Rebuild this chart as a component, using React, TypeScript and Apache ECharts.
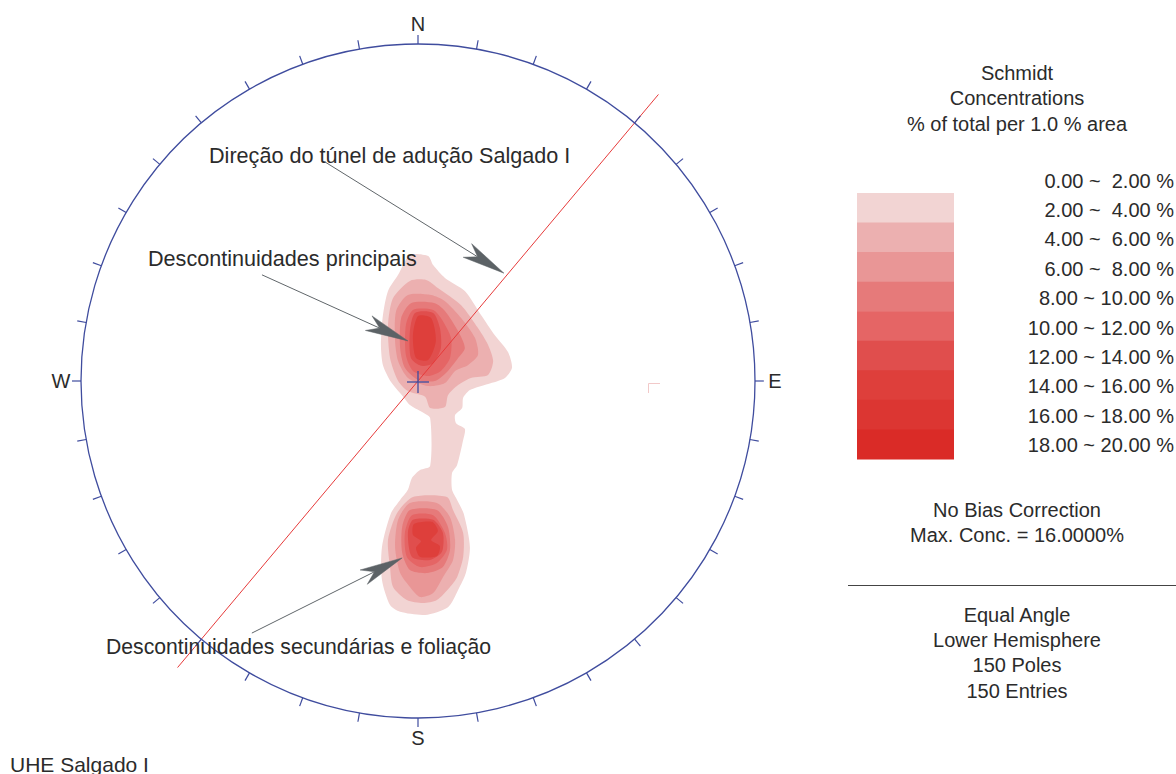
import React, { useEffect, useRef } from "react";
import * as echarts from "echarts";

// ---- Net geometry (net units: primitive circle radius = 100) ----
const NET_R = 100;
const TICK_STEP_DEG = 10;
const CARDINALS = [
  { label: "N", az: 0 },
  { label: "E", az: 90 },
  { label: "S", az: 180 },
  { label: "W", az: 270 },
];

// ---- Contour classes (% of total per 1.0 % area) ----
const LEVEL_BOUNDS = [0, 2, 4, 6, 8, 10, 12, 14, 16, 18, 20];
const LEVEL_COLORS = [
  "#ffffff",
  "#f2d4d3",
  "#ecb0b0",
  "#e99696",
  "#e67a7a",
  "#e56565",
  "#e04e4d",
  "#de3f3b",
  "#dc3632",
  "#da2b27",
];
const MAX_CONC = 16;
const POLES = 150;
const ENTRIES = 150;

// ---- Tunnel direction (azimuth, degrees) ----
const TUNNEL_TREND = 40;
const TUNNEL_HALF_LENGTH = 111;

// ---- Contour rings [x, y] in net units ----
// 2-4 %: one band that joins both pole clusters
const BAND_1 = [
  [-2.4, 37.4], [3.0, 37.1], [4.5, 34.4], [8.0, 30.6], [13.9, 26.7], [18.7, 19.6],
  [22.8, 13.6], [26.7, 8.6], [27.9, 3.9], [25.8, 0.9], [20.8, -0.9], [15.4, -2.7],
  [13.4, -5.0], [13.1, -8.0], [11.0, -10.1], [11.3, -12.5], [13.9, -14.2], [13.4, -17.5],
  [11.6, -24.9], [10.1, -27.3], [10.1, -32.3], [11.6, -35.3], [13.6, -39.5], [15.4, -49.3],
  [14.2, -57.0], [11.9, -62.0], [8.9, -67.1], [2.1, -69.4], [-5.3, -68.5], [-8.3, -66.5],
  [-10.7, -59.0], [-10.7, -49.3], [-8.0, -39.2], [-5.3, -35.3], [-3.0, -32.3], [-1.8, -28.8],
  [0.6, -26.4], [3.6, -25.2], [3.6, -11.0], [1.2, -9.2], [-2.4, -7.1], [-4.5, -4.5],
  [-8.0, -0.3], [-10.4, 4.7], [-11.0, 10.7], [-10.4, 19.6], [-8.9, 26.7], [-5.9, 31.5],
];

// principal set (upper cluster)
const UPPER_2 = [
  [-2.4, 29.7], [2.4, 30.0], [5.9, 27.6], [12.8, 22.5], [17.8, 15.7], [20.8, 10.7],
  [22.3, 5.9], [20.8, 1.8], [15.7, 0.9], [11.9, -1.2], [8.9, -4.2], [8.0, -7.7],
  [3.6, -8.0], [2.1, -4.7], [-3.0, -3.0], [-5.9, 0], [-8.3, 6.8], [-8.9, 16.6], [-7.4, 24.6],
];
const UPPER_3 = [
  [-3.0, 25.5], [3.9, 25.5], [8.0, 23.7], [12.8, 18.7], [16.9, 12.8], [17.8, 7.7],
  [14.8, 4.7], [11.0, 3.0], [8.0, -0.6], [3.0, -1.5], [-3.0, 0.9], [-5.9, 5.9],
  [-6.8, 11.9], [-6.5, 20.8],
];
const UPPER_4 = [
  [-2.1, 23.1], [5.0, 23.1], [8.0, 20.8], [11.9, 14.8], [13.9, 9.8], [11.9, 6.8],
  [8.9, 3.0], [5.0, 0], [0, 0.3], [-3.9, 3.9], [-5.3, 9.8], [-5.0, 18.7],
];
const UPPER_5 = [
  [-1.5, 21.1], [4.5, 21.1], [6.8, 18.7], [9.8, 12.8], [9.5, 6.8], [6.8, 3.0],
  [3.0, 1.5], [-1.5, 3.0], [-3.6, 7.7], [-3.6, 16.6],
];
const UPPER_6 = [
  [-0.9, 20.2], [4.5, 20.2], [6.5, 15.7], [6.8, 9.8], [4.5, 5.3], [0.9, 4.5],
  [-2.1, 6.8], [-2.4, 14.8],
];
const UPPER_7 = [
  [0, 19.3], [3.9, 18.7], [5.3, 11.9], [3.0, 6.2], [-0.6, 6.8], [-1.5, 13.6],
];

// secondary set and foliation (lower cluster)
const LOWER_2 = [
  [-1.5, -34.4], [8.6, -34.4], [10.4, -38.3], [13.4, -45.1], [13.4, -52.2], [11.6, -58.2],
  [9.5, -61.1], [5.6, -65.0], [1.5, -65.9], [-3.3, -65.0], [-7.4, -61.1], [-8.3, -55.2],
  [-8.9, -47.2], [-6.2, -39.2],
];
const LOWER_3 = [
  [-2.4, -36.2], [5.6, -36.2], [9.5, -40.4], [11.0, -47.2], [10.4, -53.1], [7.4, -58.2],
  [4.5, -62.9], [0.6, -64.1], [-2.4, -61.1], [-5.3, -57.0], [-6.8, -49.3], [-5.9, -41.2],
];
const LOWER_4 = [
  [-2.4, -38.3], [5.6, -38.3], [8.9, -43.3], [9.5, -50.1], [7.4, -55.2], [2.7, -57.0],
  [-2.4, -56.1], [-4.7, -51.0], [-4.7, -43.3],
];
const LOWER_5 = [
  [-1.8, -39.8], [4.5, -39.8], [8.0, -45.1], [8.6, -50.1], [5.6, -54.0], [0.6, -55.2],
  [-3.3, -52.2], [-3.9, -45.1],
];
const LOWER_6 = [
  [-1.5, -41.2], [4.5, -41.2], [7.4, -45.1], [7.1, -50.7], [3.6, -53.1], [-1.8, -52.2],
  [-3.0, -45.1],
];
const LOWER_7 = [
  [-1.2, -42.4], [4.2, -41.8], [5.9, -44.5], [3.9, -47.2], [6.5, -49.0], [5.6, -51.9],
  [0.6, -52.2], [-0.6, -49.5], [0.9, -47.5], [-1.5, -45.7],
];

// drawn from the lowest class upward
const CONTOURS: { level: number; ring: number[][] }[] = [
  { level: 1, ring: BAND_1 },
  { level: 2, ring: UPPER_2 },
  { level: 2, ring: LOWER_2 },
  { level: 3, ring: UPPER_3 },
  { level: 3, ring: LOWER_3 },
  { level: 4, ring: UPPER_4 },
  { level: 4, ring: LOWER_4 },
  { level: 5, ring: UPPER_5 },
  { level: 5, ring: LOWER_5 },
  { level: 6, ring: UPPER_6 },
  { level: 6, ring: LOWER_6 },
  { level: 7, ring: UPPER_7 },
  { level: 7, ring: LOWER_7 },
];

// ---- Annotation arrows [fromX, fromY, toX, toY] in net units ----
const ARROW_TUNNEL = [-27.6, 65.0, 25.5, 32.0];
const ARROW_PRINCIPAL = [-46.3, 31.5, -3.0, 11.9];
const ARROW_SECONDARY = [-49.3, -74.8, -4.7, -52.5];
const ARROWS = [ARROW_TUNNEL, ARROW_PRINCIPAL, ARROW_SECONDARY];

const FONT = '"Liberation Sans", Arial, Helvetica, sans-serif';
const TEXT_COLOR = "#2b2b2b";
const NET_COLOR = "#3f4c9e";

function rangeLabel(lo: number, hi: number) {
  const pad = hi < 10 ? "\u00a0" : "";
  return `${lo.toFixed(2)} ~ ${pad}${hi.toFixed(2)} %`;
}

function txt(text: string, x: number, y: number, size: number, align = "center") {
  return {
    type: "text",
    x,
    y,
    z: 20,
    silent: true,
    style: {
      text,
      font: `${size}px ${FONT}`,
      fill: TEXT_COLOR,
      textAlign: align,
      align,
      textVerticalAlign: "middle",
      verticalAlign: "middle",
    },
  };
}

function buildOption() {
  const deg = Math.PI / 180;
  const tunnelEnd = [
    TUNNEL_HALF_LENGTH * Math.sin(TUNNEL_TREND * deg),
    TUNNEL_HALF_LENGTH * Math.cos(TUNNEL_TREND * deg),
  ];

  const tickAz: number[] = [];
  for (let a = 0; a < 360; a += TICK_STEP_DEG) tickAz.push(a);

  // legend column
  const legendX = 1017;
  const swatchTop = 193;
  const swatchH = 29.55;
  const labelTop = 180.6;
  const labelStep = 29.4;
  const graphics: any[] = [
    txt("Schmidt", legendX, 73, 20),
    txt("Concentrations", legendX, 98, 20),
    txt("% of total per 1.0 % area", legendX, 124, 20),
  ];
  for (let i = 0; i < LEVEL_BOUNDS.length - 1; i++) {
    graphics.push(
      txt(rangeLabel(LEVEL_BOUNDS[i], LEVEL_BOUNDS[i + 1]), 1174, labelTop + i * labelStep, 20, "right")
    );
    if (i > 0) {
      graphics.push({
        type: "rect",
        silent: true,
        z: 10,
        shape: { x: 857, y: swatchTop + (i - 1) * swatchH, width: 97, height: swatchH + 0.6 },
        style: { fill: LEVEL_COLORS[i] },
      });
    }
  }
  graphics.push(
    txt("No Bias Correction", legendX, 510, 20),
    txt(`Max. Conc. = ${MAX_CONC.toFixed(4)}%`, legendX, 535, 20),
    {
      type: "line",
      silent: true,
      z: 10,
      shape: { x1: 848, y1: 585.5, x2: 1176, y2: 585.5 },
      style: { stroke: "#444", lineWidth: 1.2 },
    },
    txt("Equal Angle", legendX, 615, 20),
    txt("Lower Hemisphere", legendX, 640, 20),
    txt(`${POLES} Poles`, legendX, 665, 20),
    txt(`${ENTRIES} Entries`, legendX, 691, 20),
    txt("UHE Salgado I", 10, 764, 21, "left"),
    txt("Direção do túnel de adução Salgado I", 209, 155, 21.6, "left"),
    txt("Descontinuidades principais", 148, 258, 21.6, "left"),
    txt("Descontinuidades secundárias e foliação", 106, 646, 21.2, "left"),
    {
      type: "polyline",
      silent: true,
      z: 5,
      shape: { points: [[660, 383.5], [648.5, 383.5], [648.5, 393]] },
      style: { stroke: "#f2c9c9", lineWidth: 1, fill: null },
    }
  );

  return {
    animation: false,
    backgroundColor: "#ffffff",
    grid: { left: 81, top: 44, width: 674, height: 674 },
    xAxis: { type: "value", min: -NET_R, max: NET_R, show: false },
    yAxis: { type: "value", min: -NET_R, max: NET_R, show: false },
    series: [
      {
        type: "custom",
        name: "contours",
        silent: true,
        z: 1,
        data: CONTOURS.map((c) => c.ring[0]),
        renderItem: (params: any, api: any) => {
          const c = CONTOURS[params.dataIndex];
          return {
            type: "polygon",
            shape: { points: c.ring.map((p) => api.coord(p)), smooth: 0.25 },
            style: { fill: LEVEL_COLORS[c.level], stroke: null },
          };
        },
      },
      {
        type: "line",
        name: "tunnel",
        silent: true,
        z: 2,
        symbol: "none",
        lineStyle: { color: "#e63a3a", width: 1 },
        data: [
          [-tunnelEnd[0], -tunnelEnd[1]],
          [tunnelEnd[0], tunnelEnd[1]],
        ],
      },
      {
        type: "custom",
        name: "arrows",
        silent: true,
        z: 3,
        data: ARROWS,
        renderItem: (params: any, api: any) => {
          const a = ARROWS[params.dataIndex];
          const p1 = api.coord([a[0], a[1]]);
          const p2 = api.coord([a[2], a[3]]);
          const dx = p2[0] - p1[0];
          const dy = p2[1] - p1[1];
          const len = Math.hypot(dx, dy);
          const ux = dx / len;
          const uy = dy / len;
          const nx = -uy;
          const ny = ux;
          const headLen = 43;
          const halfW = 8;
          const notch = 31;
          const bx = p2[0] - ux * headLen;
          const by = p2[1] - uy * headLen;
          const mx = p2[0] - ux * notch;
          const my = p2[1] - uy * notch;
          return {
            type: "group",
            children: [
              {
                type: "line",
                shape: { x1: p1[0], y1: p1[1], x2: mx, y2: my },
                style: { stroke: "#60666a", lineWidth: 1 },
              },
              {
                type: "polygon",
                shape: {
                  points: [
                    [p2[0], p2[1]],
                    [bx + nx * halfW, by + ny * halfW],
                    [mx, my],
                    [bx - nx * halfW, by - ny * halfW],
                  ],
                },
                style: { fill: "#5c6266", stroke: "#5c6266", lineWidth: 0.5 },
              },
            ],
          };
        },
      },
      {
        type: "custom",
        name: "net",
        silent: true,
        z: 4,
        data: [[0, 0]],
        renderItem: (params: any, api: any) => {
          const c = api.coord([0, 0]);
          const r = api.size([NET_R, NET_R])[0];
          const children: any[] = [
            {
              type: "circle",
              shape: { cx: c[0], cy: c[1], r },
              style: { fill: null, stroke: NET_COLOR, lineWidth: 1.3 },
            },
            {
              type: "line",
              shape: { x1: c[0] - 11, y1: c[1] + 1, x2: c[0] + 11, y2: c[1] + 1 },
              style: { stroke: NET_COLOR, lineWidth: 1.3 },
            },
            {
              type: "line",
              shape: { x1: c[0], y1: c[1] - 10, x2: c[0], y2: c[1] + 12 },
              style: { stroke: NET_COLOR, lineWidth: 1.3 },
            },
          ];
          tickAz.forEach((az) => {
            const s = Math.sin(az * deg);
            const k = Math.cos(az * deg);
            children.push({
              type: "line",
              shape: {
                x1: c[0] + r * s,
                y1: c[1] - r * k,
                x2: c[0] + (r + 9) * s,
                y2: c[1] - (r + 9) * k,
              },
              style: { stroke: NET_COLOR, lineWidth: 1.2 },
            });
          });
          CARDINALS.forEach((cd) => {
            const s = Math.sin(cd.az * deg);
            const k = Math.cos(cd.az * deg);
            const rr = r + 20;
            children.push({
              type: "text",
              x: c[0] + rr * s,
              y: c[1] - rr * k,
              style: {
                text: cd.label,
                font: `20px ${FONT}`,
                fill: TEXT_COLOR,
                textAlign: "center",
                align: "center",
                textVerticalAlign: "middle",
                verticalAlign: "middle",
              },
            });
          });
          return { type: "group", children };
        },
      },
    ],
    graphic: graphics,
  };
}

export default function App() {
  const ref = useRef<HTMLDivElement>(null);
  useEffect(() => {
    if (!ref.current) return;
    const chart = echarts.init(ref.current, null, { renderer: "svg" });
    chart.setOption(buildOption() as any);
    return () => chart.dispose();
  }, []);
  return (
    <div
      ref={ref}
      style={{ position: "fixed", left: 0, top: 0, width: 1176, height: 774, background: "#fff" }}
    />
  );
}
